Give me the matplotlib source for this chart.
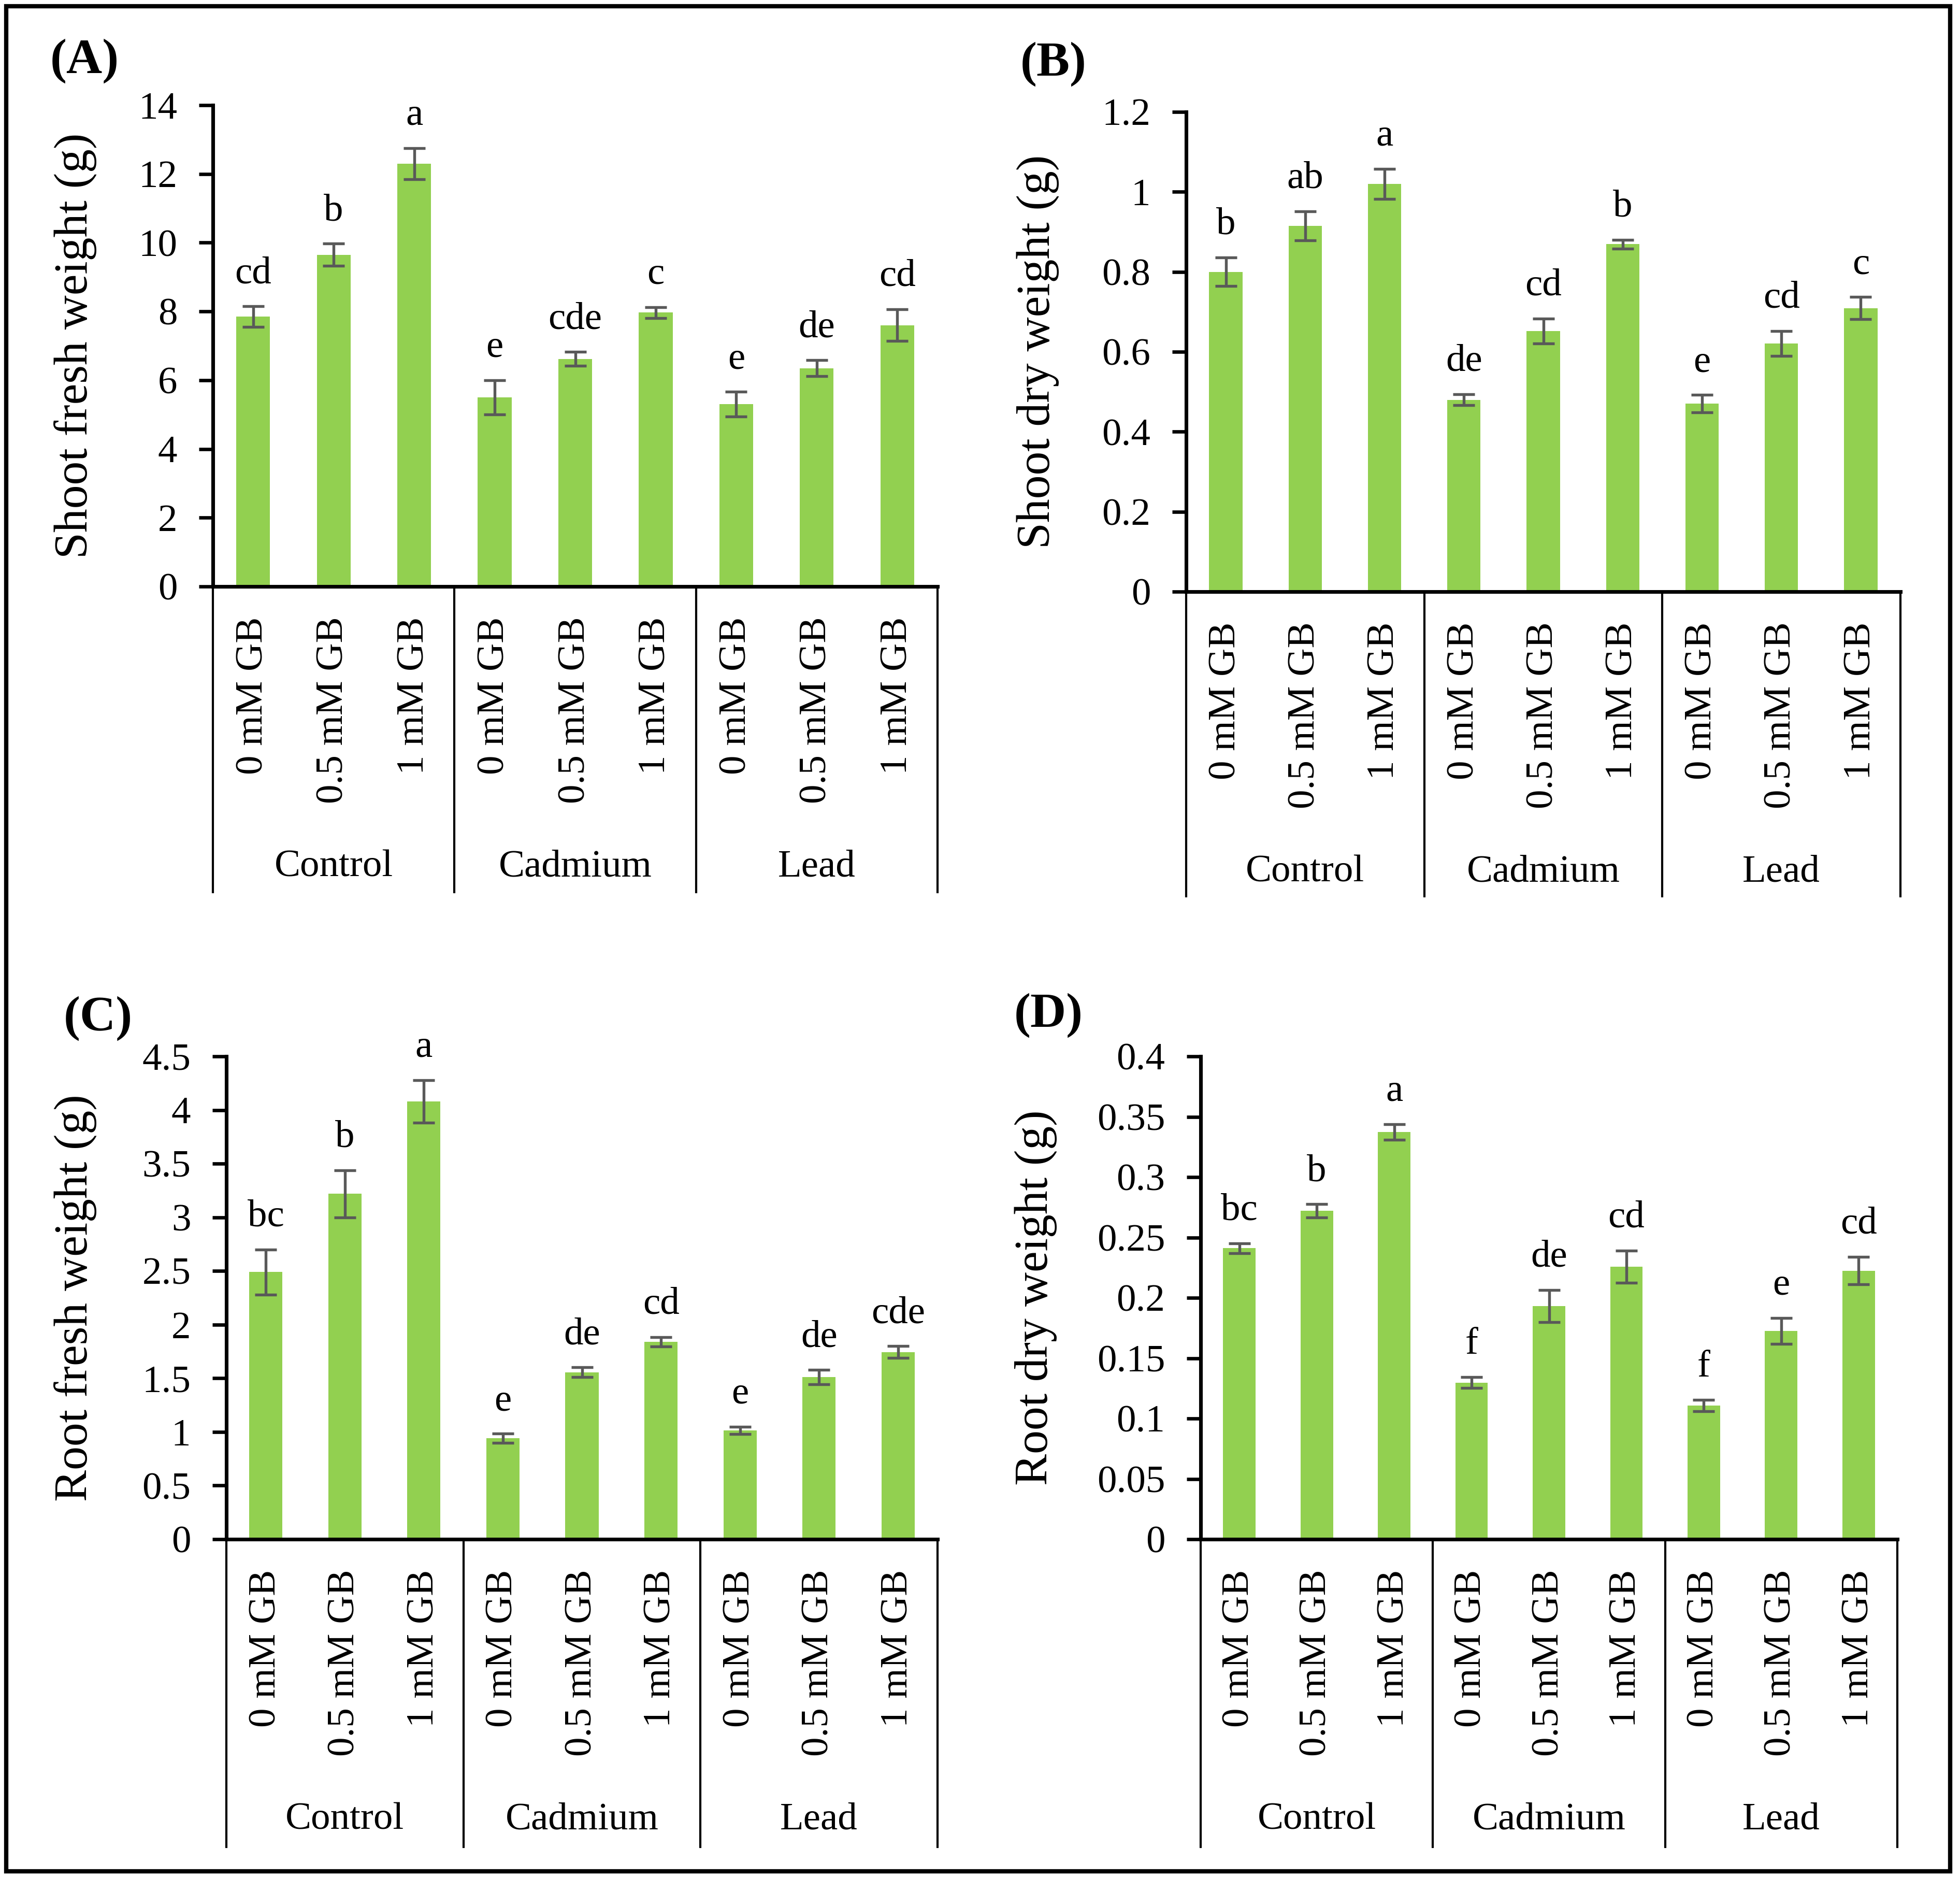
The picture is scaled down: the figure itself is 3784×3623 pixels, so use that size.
import numpy as np
import matplotlib
matplotlib.use('Agg')
import matplotlib.pyplot as plt
from matplotlib.patches import Rectangle

plt.rcParams['font.family'] = ['Liberation Serif', 'DejaVu Serif']

# Treatment groups and glycine betaine doses
groups = ['Control', 'Cadmium', 'Lead']
doses = ['0 mM GB', '0.5 mM GB', '1 mM GB']

# (A) Shoot fresh weight
shoot_fw = [7.85, 9.65, 12.3, 5.5, 6.62, 7.97, 5.3, 6.35, 7.6]
shoot_fw_err = [0.3, 0.32, 0.45, 0.5, 0.2, 0.16, 0.36, 0.23, 0.46]
shoot_fw_let = ['cd', 'b', 'a', 'e', 'cde', 'c', 'e', 'de', 'cd']

# (B) Shoot dry weight
shoot_dw = [0.80, 0.915, 1.02, 0.48, 0.652, 0.869, 0.47, 0.621, 0.709]
shoot_dw_err = [0.036, 0.036, 0.038, 0.014, 0.031, 0.011, 0.022, 0.031, 0.028]
shoot_dw_let = ['b', 'ab', 'a', 'de', 'cd', 'b', 'e', 'cd', 'c']

# (C) Root fresh weight
root_fw = [2.49, 3.22, 4.08, 0.94, 1.555, 1.84, 1.015, 1.51, 1.745]
root_fw_err = [0.21, 0.22, 0.2, 0.044, 0.046, 0.044, 0.033, 0.067, 0.054]
root_fw_let = ['bc', 'b', 'a', 'e', 'de', 'cd', 'e', 'de', 'cde']

# (D) Root dry weight
root_dw = [0.241, 0.272, 0.3375, 0.1298, 0.1933, 0.2258, 0.1108, 0.1726, 0.2225]
root_dw_err = [0.004, 0.0056, 0.0064, 0.0046, 0.0133, 0.0133, 0.0046, 0.0108, 0.0115]
root_dw_let = ['bc', 'b', 'a', 'f', 'de', 'cd', 'f', 'e', 'cd']

BAR_COLOR = '#92D050'
ERR_COLOR = '#595959'
FS = 18

W, H = 3784, 3623
fig = plt.figure(figsize=(W / 300, H / 300), dpi=300)


def px_axes(left, top, right, bottom):
    """Axes rectangle from pixel edges (top-left origin)."""
    return fig.add_axes([left / W, 1 - bottom / H, (right - left) / W, (bottom - top) / H])


def draw_panel(ax, values, errors, letters, ylabel, ymax, ystep, label_x, depth_px):
    x = np.arange(len(values))
    ax.bar(x, values, width=0.42, color=BAR_COLOR, zorder=2)
    ax.errorbar(x, values, yerr=errors, fmt='none', ecolor=ERR_COLOR,
                elinewidth=1.3, capsize=5, capthick=1.3, zorder=3)
    for xi, v, e, t in zip(x, values, errors, letters):
        ax.annotate(t, (xi, v + e), xytext=(0, 7), textcoords='offset points',
                    ha='center', va='bottom', fontsize=FS)

    ax.set_xlim(-0.5, len(values) - 0.5)
    ax.set_ylim(0, ymax)
    ticks = np.arange(0, ymax + ystep / 2, ystep)
    ax.set_yticks(ticks)
    ax.set_yticklabels([f'{t:g}' for t in ticks], fontsize=FS)
    ax.tick_params(axis='y', direction='out', length=6.5, width=1.6, pad=10)

    ax.set_xticks(x)
    ax.set_xticklabels(doses * len(groups), rotation=90, fontsize=FS)
    ax.tick_params(axis='x', length=0, pad=14)

    for s in ['top', 'right']:
        ax.spines[s].set_visible(False)
    ax.spines['left'].set_linewidth(1.7)
    ax.spines['bottom'].set_linewidth(1.7)

    ax.set_ylabel(ylabel, fontsize=22)
    ax.yaxis.set_label_coords(label_x, 0.5)

    # multi-level category axis: dividers and group names
    trans = ax.get_xaxis_transform()
    d = depth_px / (ax.get_position().height * H)
    for b in [-0.5, 2.5, 5.5, 8.5]:
        ax.plot([b, b], [0, -d], transform=trans, color='black',
                lw=1.0, clip_on=False, zorder=1)
    for i, g in enumerate(groups):
        ax.annotate(g, (3 * i + 1, 0), xycoords=trans, xytext=(0, -130),
                    textcoords='offset points', ha='center', va='center',
                    fontsize=FS, annotation_clip=False)


axA = px_axes(411, 203, 1810, 1132)
draw_panel(axA, shoot_fw, shoot_fw_err, shoot_fw_let, 'Shoot fresh weight (g)', 14, 2, -0.16, 590)

axB = px_axes(2290, 216, 3669, 1142)
draw_panel(axB, shoot_dw, shoot_dw_err, shoot_dw_let, 'Shoot dry weight (g)', 1.2, 0.2, -0.178, 588)

axC = px_axes(437, 2039, 1810, 2971)
draw_panel(axC, root_fw, root_fw_err, root_fw_let, 'Root fresh weight (g)', 4.5, 0.5, -0.182, 594)

axD = px_axes(2318, 2039, 3663, 2971)
draw_panel(axD, root_dw, root_dw_err, root_dw_let, 'Root dry weight (g)', 0.4, 0.05, -0.206, 594)

# panel letters
for lab, px, py in [('(A)', 97, 118), ('(B)', 1970, 124), ('(C)', 123, 1966), ('(D)', 1958, 1960)]:
    fig.text(px / W, 1 - py / H, lab, fontsize=23, fontweight='bold', ha='left', va='center')

# outer frame
fig.patches.append(Rectangle((12 / W, 1 - 3612 / H), (3765 - 12) / W, (3612 - 12) / H,
                             transform=fig.transFigure, fill=False, lw=2.0,
                             edgecolor='black'))

fig.savefig('out.png', dpi=300)
